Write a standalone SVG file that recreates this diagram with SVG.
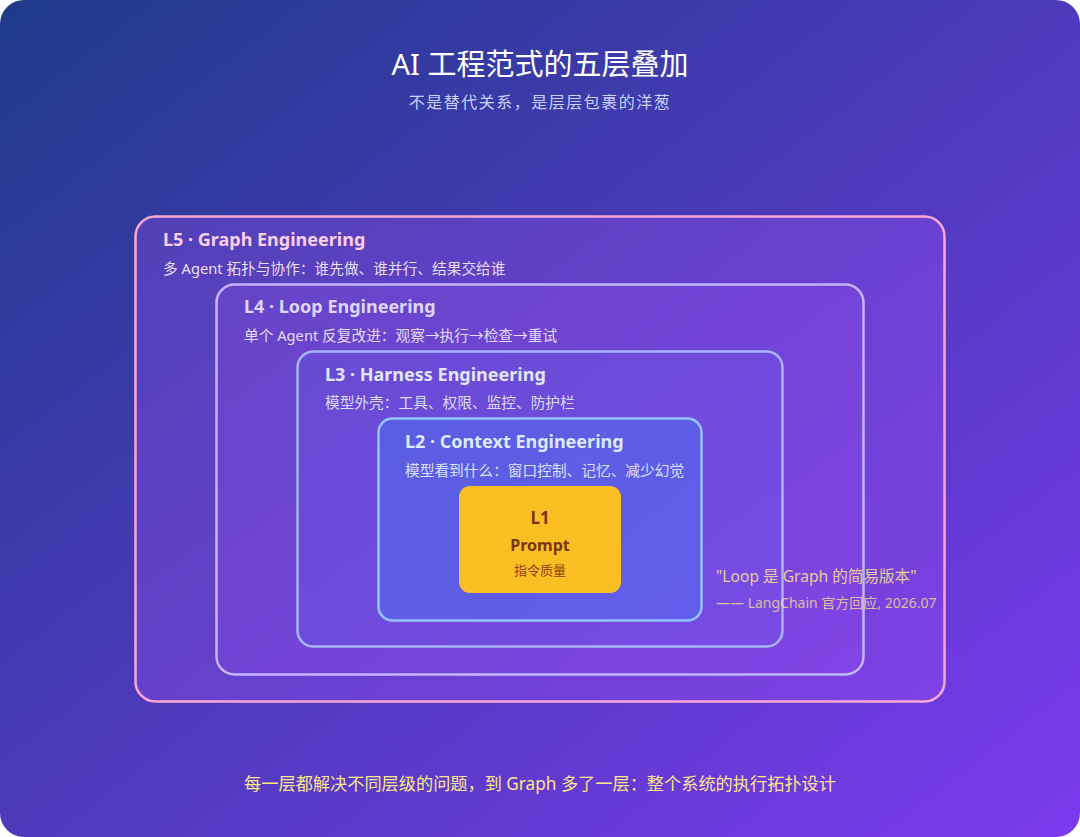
<svg xmlns="http://www.w3.org/2000/svg" width="1080" height="837" viewBox="0 0 1080 837">
<defs>
<linearGradient id="bg" x1="0" y1="0" x2="1" y2="1">
<stop offset="0" stop-color="#1e3a8a"/>
<stop offset="1" stop-color="#7c3aed"/>
</linearGradient>
<style>
.t{font-family:"Noto Sans","Noto Sans CJK SC",sans-serif}
.h{font-weight:700;font-size:18px}
.s{font-size:14.7px}
</style>
</defs>
<rect width="1080" height="837" fill="#ffffff"/>
<rect x="0" y="0" width="1080" height="837" rx="24" fill="url(#bg)"/>
<g id="title">
<text class="t" x="540" y="75" text-anchor="middle" font-size="29" fill="#ffffff">AI 工程范式的五层叠加</text>
<text class="t" x="540" y="108" text-anchor="middle" font-size="16" letter-spacing="1.5" fill="#c7d2fe">不是替代关系，是层层包裹的洋葱</text>
</g>
<g id="L5">
<rect x="135.5" y="216.5" width="809" height="485" rx="20" fill="#a855f7" fill-opacity="0.28" stroke="#f9a8d4" stroke-width="2.5"/>
<text class="t h" x="163" y="246" fill="#fbcfe8">L5 · Graph Engineering</text>
<text class="t s" x="163" y="274" fill="#e9ddf7">多 Agent 拓扑与协作：谁先做、谁并行、结果交给谁</text>
</g>
<g id="L4">
<rect x="216.5" y="284.5" width="647" height="390" rx="18" fill="#a855f7" fill-opacity="0.18" stroke="#c4b5fd" stroke-width="2.5"/>
<text class="t h" x="244" y="313" fill="#ddd6fe">L4 · Loop Engineering</text>
<text class="t s" x="244" y="341" fill="#e4dcf7">单个 Agent 反复改进：观察→执行→检查→重试</text>
</g>
<g id="L3">
<rect x="297.5" y="351.5" width="485" height="295" rx="16" fill="#6366f1" fill-opacity="0.22" stroke="#a5b4fc" stroke-width="2.5"/>
<text class="t h" x="325" y="381" fill="#e0e7ff">L3 · Harness Engineering</text>
<text class="t s" x="325" y="408" fill="#dcdcf7">模型外壳：工具、权限、监控、防护栏</text>
</g>
<g id="L2">
<rect x="378.5" y="418.5" width="323" height="202" rx="14" fill="#3b82f6" fill-opacity="0.35" stroke="#93c5fd" stroke-width="2.5"/>
<text class="t h" x="405" y="448" fill="#dbeafe">L2 · Context Engineering</text>
<text class="t s" x="405" y="476" fill="#dbe2fb">模型看到什么：窗口控制、记忆、减少幻觉</text>
</g>
<g id="L1">
<rect x="459" y="486" width="162" height="107" rx="11" fill="#fbbf24"/>
<text class="t" x="540" y="524" text-anchor="middle" font-size="17" font-weight="700" fill="#78350f">L1</text>
<text class="t" x="540" y="551" text-anchor="middle" font-size="16" font-weight="700" fill="#78350f">Prompt</text>
<text class="t" x="540" y="575" text-anchor="middle" font-size="13" fill="#92400e">指令质量</text>
</g>
<g id="quote">
<text class="t" x="716" y="582" font-size="15.6" fill="#fde68a" fill-opacity="0.85">"Loop 是 Graph 的简易版本"</text>
<text class="t" x="716" y="608" font-size="14" fill="#fde68a" fill-opacity="0.75">—— LangChain 官方回应, 2026.07</text>
</g>
<g id="footer">
<text class="t" x="540" y="790" text-anchor="middle" font-size="17.2" fill="#fde68a">每一层都解决不同层级的问题，到 Graph 多了一层：整个系统的执行拓扑设计</text>
</g>
<g id="connectors"/>
</svg>
